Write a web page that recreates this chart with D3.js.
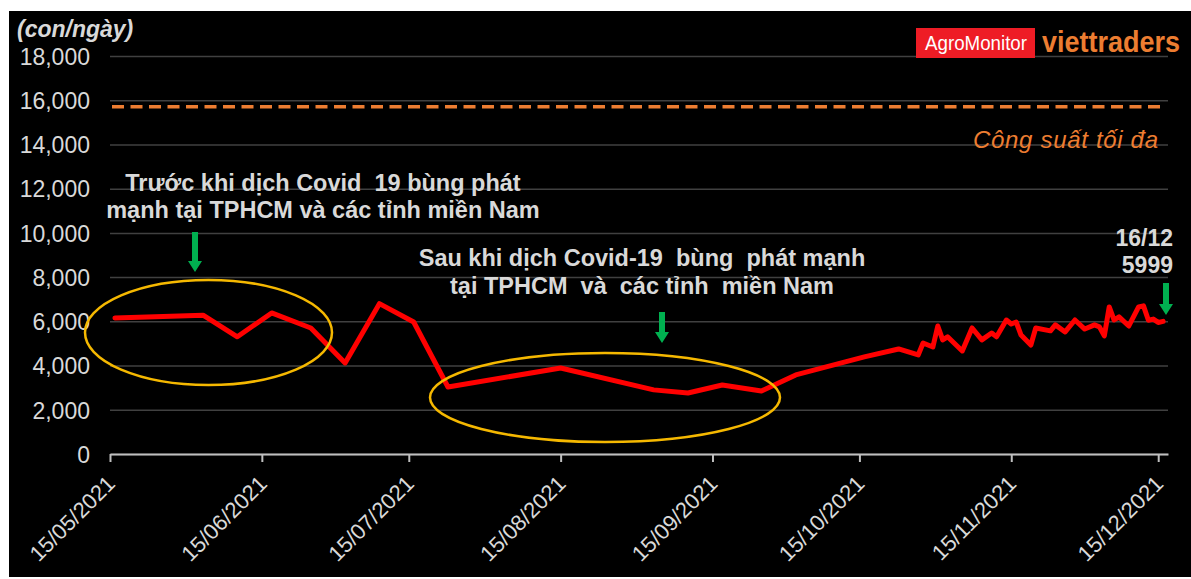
<!DOCTYPE html>
<html>
<head>
<meta charset="utf-8">
<script src="https://cdn.jsdelivr.net/npm/d3@7"></script>
<style>
  html, body { margin: 0; padding: 0; background: #ffffff; }
  svg { display: block; }
  text { font-family: "Liberation Sans", Arial, sans-serif; }
</style>
</head>
<body>
<svg id="chart" width="1191" height="579"></svg>
<script>
// ---------- DATA ----------
const dates = [
  "16/05/2021","03/06/2021","10/06/2021","17/06/2021","25/06/2021","02/07/2021","09/07/2021","16/07/2021",
  "23/07/2021","15/08/2021","03/09/2021","10/09/2021","17/09/2021","25/09/2021","02/10/2021","16/10/2021",
  "23/10/2021","27/10/2021","28/10/2021","30/10/2021","31/10/2021","01/11/2021","02/11/2021","05/11/2021",
  "07/11/2021","09/11/2021","11/11/2021","12/11/2021","14/11/2021","15/11/2021","16/11/2021","17/11/2021",
  "19/11/2021","20/11/2021","23/11/2021","24/11/2021","26/11/2021","28/11/2021","30/11/2021","02/12/2021",
  "03/12/2021","04/12/2021","05/12/2021","06/12/2021","07/12/2021","09/12/2021","11/12/2021","12/12/2021",
  "13/12/2021","14/12/2021","15/12/2021","16/12/2021"
];
const slaughter = [
  6150, 6280, 5300, 6380, 5700, 4120, 6800, 5970,
  3030, 3890, 2900, 2760, 3120, 2850, 3575, 4390,
  4750, 4480, 5020, 4840, 5790, 5160, 5300, 4660,
  5700, 5160, 5470, 5300, 6060, 5880, 5970, 5380,
  4930, 5700, 5570, 5840, 5520, 6060, 5650, 5840,
  5750, 5340, 6650, 6060, 6200, 5790, 6650, 6700,
  6050, 6100, 5950, 5999
];
const maxCapacity = 15700;
const xTickDates = ["15/05/2021","15/06/2021","15/07/2021","15/08/2021","15/09/2021","15/10/2021","15/11/2021","15/12/2021"];
const yTicks = [0, 2000, 4000, 6000, 8000, 10000, 12000, 14000, 16000, 18000];
const xDomain = ["15/05/2021", "17/12/2021"];
const yDomain = [0, 18000];
const unitLabel = "(con/ngày)";
const capacityLabel = "Công suất tối đa";
const noteBefore = ["Trước khi dịch Covid  19 bùng phát", "mạnh tại TPHCM và các tỉnh miền Nam"];
const noteAfter = ["Sau khi dịch Covid-19  bùng  phát mạnh", "tại TPHCM  và  các tỉnh  miền Nam"];
const lastLabel = ["16/12", "5999"];

// ---------- SETUP ----------
const parse = d3.timeParse("%d/%m/%Y");
const fmt = d3.timeFormat("%d/%m/%Y");
const series = dates.map((d, i) => ({ date: parse(d), value: slaughter[i] }));

const svg = d3.select("#chart");
const W = 1191, H = 579;
const plot = { left: 110, right: 1168, top: 56, bottom: 454 };

svg.append("rect").attr("x", 9).attr("y", 11).attr("width", W - 9).attr("height", 566).attr("fill", "#000000");

const x = d3.scaleTime().domain(xDomain.map(parse)).range([plot.left, plot.right]);
const y = d3.scaleLinear().domain(yDomain).range([plot.bottom, plot.top]);

const textCol = "#d9d9d9";

// Y axis with gridlines
const yAxis = svg.append("g")
  .attr("transform", `translate(${plot.left},0)`)
  .call(d3.axisLeft(y).tickValues(yTicks).tickFormat(d3.format(",")).tickSize(-(plot.right - plot.left)).tickPadding(20));
yAxis.select(".domain").remove();
yAxis.selectAll(".tick line").attr("stroke", "#404040").attr("stroke-width", 1.5);
yAxis.selectAll(".tick text")
  .style("font-size", "23px").style("fill", textCol)
  .attr("dy", "0.36em");

// X axis
const xAxis = svg.append("g")
  .attr("transform", `translate(0,${plot.bottom})`)
  .call(d3.axisBottom(x).tickValues(xTickDates.map(parse)).tickFormat(fmt).tickSize(8).tickSizeOuter(0));
xAxis.select(".domain").attr("stroke", "#bfbfbf").attr("stroke-width", 2);
xAxis.selectAll(".tick line").attr("stroke", "#bfbfbf").attr("stroke-width", 2);
xAxis.selectAll(".tick text")
  .style("font-size", "22px").style("fill", textCol)
  .attr("text-anchor", "end")
  .attr("dy", null)
  .attr("y", 0)
  .attr("transform", "translate(6,31) rotate(-45)");

// Unit label
svg.append("text").attr("x", 17).attr("y", 37).attr("fill", textCol)
  .style("font-size", "23px").attr("font-weight", "bold").attr("font-style", "italic").text(unitLabel);

// Max capacity dashed line
svg.append("line")
  .attr("x1", plot.left + 2).attr("x2", plot.right - 5)
  .attr("y1", y(maxCapacity)).attr("y2", y(maxCapacity))
  .attr("stroke", "#ed7d31").attr("stroke-width", 3.5).attr("stroke-dasharray", "12,6.5");
svg.append("text").attr("x", 973).attr("y", 148)
  .attr("fill", "#ed7d31").style("font-size", "24px").attr("font-style", "italic")
  .attr("textLength", 185).attr("lengthAdjust", "spacing").text(capacityLabel);

// Data line
const line = d3.line().x(d => x(d.date)).y(d => y(d.value));
svg.append("path").datum(series)
  .attr("d", line).attr("fill", "none").attr("stroke", "#ff0000")
  .attr("stroke-width", 5).attr("stroke-linejoin", "round").attr("stroke-linecap", "round");

// Ellipses
const ell = [
  { cx: 208.5, cy: 332.5, rx: 123.5, ry: 52.5 },
  { cx: 605, cy: 397.5, rx: 175, ry: 44.5 }
];
svg.selectAll(".ell").data(ell).enter().append("ellipse")
  .attr("cx", d => d.cx).attr("cy", d => d.cy).attr("rx", d => d.rx).attr("ry", d => d.ry)
  .attr("fill", "none").attr("stroke", "#f5b800").attr("stroke-width", 2.5);

// Green arrows
function arrow(cx, y0, y1) {
  const hh = 11, hw = 7, sw = 3;
  svg.append("path")
    .attr("d", `M${cx - sw},${y0} L${cx + sw},${y0} L${cx + sw},${y1 - hh} L${cx + hw},${y1 - hh} L${cx},${y1} L${cx - hw},${y1 - hh} L${cx - sw},${y1 - hh} Z`)
    .attr("fill", "#00b050");
}
arrow(195, 232, 272);
arrow(662, 312, 343);
arrow(1166, 283, 315);

// Notes
function note(lines, cx, y0, lh) {
  lines.forEach((t, i) => {
    svg.append("text").attr("x", cx).attr("y", y0 + i * lh).attr("text-anchor", "middle")
      .attr("fill", textCol).style("font-size", "23.5px").attr("font-weight", "bold")
      .attr("xml:space", "preserve").style("white-space", "pre").text(t);
  });
}
note(noteBefore, 323, 191, 27);
note(noteAfter, 642, 266, 28);

lastLabel.forEach((t, i) => {
  svg.append("text").attr("x", 1173).attr("y", 246 + i * 27).attr("text-anchor", "end")
    .attr("fill", textCol).style("font-size", "23px").attr("font-weight", "bold").text(t);
});

// Logo
svg.append("rect").attr("x", 916).attr("y", 28).attr("width", 119).attr("height", 30).attr("fill", "#ee1c25");
svg.append("text").attr("x", 925).attr("y", 50).attr("fill", "#ffffff").style("font-size", "20px")
  .attr("textLength", 102).attr("lengthAdjust", "spacingAndGlyphs").text("AgroMonitor");
svg.append("text").attr("x", 1042).attr("y", 52).attr("fill", "#ed7d31")
  .attr("font-family", "'Liberation Serif', 'DejaVu Serif', serif").style("font-size", "29px").attr("font-weight", "bold")
  .attr("textLength", 138).attr("lengthAdjust", "spacingAndGlyphs")
  .text("viettraders");
</script>
</body>
</html>
